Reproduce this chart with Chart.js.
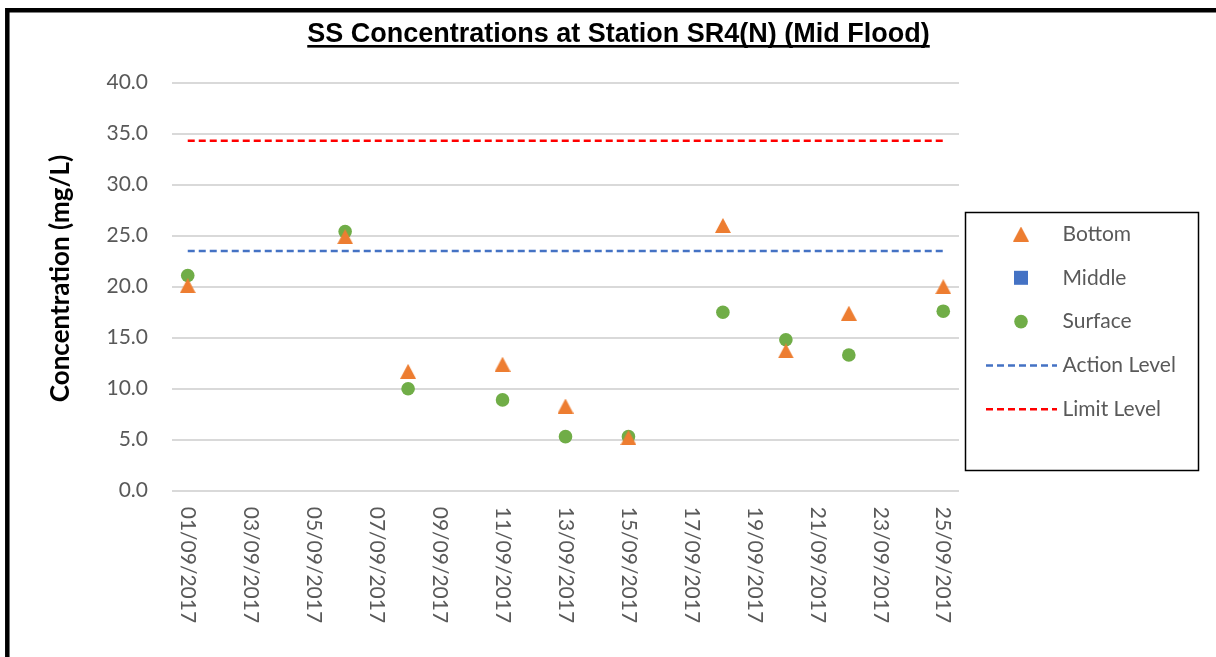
<!DOCTYPE html>
<html>
<head>
<meta charset="utf-8">
<script src="https://cdn.jsdelivr.net/npm/chart.js@4.4.0/dist/chart.umd.min.js"></script>
<style>
  html, body { margin: 0; padding: 0; background: #fff; }
  #wrap { width: 1216px; height: 657px; position: relative; }
</style>
</head>
<body>
<div id="wrap"><canvas id="ssChart"></canvas></div>
<script>
// sampling days in September 2017
const days = [1, 6, 8, 11, 13, 15, 18, 20, 22, 25];
const bottomValues = [20.1, 24.9, 11.7, 12.4, 8.3, 5.2, 26.0, 13.7, 17.4, 20.0];
const middleValues = [];
const surfaceValues = [21.1, 25.4, 10.0, 8.9, 5.3, 5.3, 17.5, 14.8, 13.3, 17.6];
const actionLevel = 23.5;
const limitLevel = 34.3;

const tickDays = [1, 3, 5, 7, 9, 11, 13, 15, 17, 19, 21, 23, 25];
const tickLabels = ['01/09/2017', '03/09/2017', '05/09/2017', '07/09/2017', '09/09/2017',
  '11/09/2017', '13/09/2017', '15/09/2017', '17/09/2017', '19/09/2017',
  '21/09/2017', '23/09/2017', '25/09/2017'];

const ORANGE = '#ED7D31', BLUE = '#4472C4', GREEN = '#70AD47', RED = '#FF0000';
const TEXT = '#595959';

// triangle marker as a small canvas, so the box centre sits on the value
function triangleMarker(w, h, color) {
    const c = document.createElement('canvas');
    c.width = w; c.height = h;
    const g = c.getContext('2d');
    g.fillStyle = color;
    g.beginPath();
    g.moveTo(w / 2, 0);
    g.lineTo(w, h);
    g.lineTo(0, h);
    g.closePath();
    g.fill();
    return c;
}
const triImg = triangleMarker(16, 15, ORANGE);

function pts(xs, ys) {
    return ys.map((v, i) => ({ x: xs[i], y: v }));
}
function level(v) {
    return [{ x: days[0], y: v }, { x: days[days.length - 1], y: v }];
}

function drawMarker(ctx, ds, x, y) {
    ctx.fillStyle = ds.backgroundColor;
    if (ds.pointStyle === 'rect') {
        ctx.fillRect(x - 7, y - 7, 14, 14);
    } else if (ds.pointStyle === 'circle') {
        ctx.beginPath();
        ctx.arc(x, y, ds.pointRadius, 0, Math.PI * 2);
        ctx.fill();
    } else if (ds.pointStyle instanceof HTMLCanvasElement) {
        const im = ds.pointStyle;
        ctx.drawImage(im, x - im.width / 2, y - im.height / 2);
    }
}

const decor = {
    id: 'decor',
    afterDraw(chart) {
        const ctx = chart.ctx;
        const area = chart.chartArea;
        const xs = chart.scales.x;
        ctx.save();

        // outer frame (only left and top edges fall inside the canvas)
        ctx.strokeStyle = '#000';
        ctx.lineWidth = 4.5;
        ctx.beginPath();
        ctx.moveTo(7.3, 700);
        ctx.lineTo(7.3, 10.3);
        ctx.lineTo(1230, 10.3);
        ctx.stroke();

        // title, underlined
        const title = 'SS Concentrations at Station SR4(N) (Mid Flood)';
        ctx.font = 'bold 27px "Liberation Sans", Arial, sans-serif';
        ctx.fillStyle = '#000';
        ctx.textAlign = 'center';
        ctx.textBaseline = 'alphabetic';
        ctx.fillText(title, 618.5, 41.5);
        const tw = ctx.measureText(title).width;
        ctx.fillRect(618.5 - tw / 2, 45, tw, 2.6);

        // y axis title
        ctx.save();
        ctx.translate(61, 278.5);
        ctx.rotate(-Math.PI / 2);
        ctx.font = 'bold 26px Lato, sans-serif';
        ctx.textBaseline = 'middle';
        ctx.fillText('Concentration (mg/L)', 0, 0);
        ctx.restore();

        // date labels, reading downwards
        ctx.fillStyle = TEXT;
        ctx.font = '21px Lato, sans-serif';
        ctx.textAlign = 'left';
        ctx.textBaseline = 'middle';
        tickDays.forEach((d, i) => {
            ctx.save();
            ctx.translate(xs.getPixelForValue(d), area.bottom + 16);
            ctx.rotate(Math.PI / 2);
            ctx.fillText(tickLabels[i], 0, 0);
            ctx.restore();
        });

        // legend box
        ctx.strokeStyle = '#000';
        ctx.lineWidth = 1.5;
        ctx.strokeRect(965.5, 212.5, 233, 258);
        chart.data.datasets.forEach((ds, i) => {
            const y = 234 + i * 43.8;
            if (ds.showLine) {
                ctx.strokeStyle = ds.borderColor;
                ctx.lineWidth = ds.borderWidth;
                ctx.setLineDash(ds.borderDash);
                ctx.beginPath();
                ctx.moveTo(986, y);
                ctx.lineTo(1057, y);
                ctx.stroke();
                ctx.setLineDash([]);
            } else {
                drawMarker(ctx, ds, 1021, y);
            }
            ctx.fillStyle = TEXT;
            ctx.textAlign = 'left';
            ctx.textBaseline = 'middle';
            ctx.fillText(ds.label, 1062.5, y);
        });
        ctx.restore();
    }
};

new Chart(document.getElementById('ssChart'), {
    type: 'scatter',
    data: {
        datasets: [
            { label: 'Bottom', data: pts(days, bottomValues), pointStyle: triImg,
              backgroundColor: ORANGE, borderColor: ORANGE, pointRadius: 8 },
            { label: 'Middle', data: pts(days, middleValues), pointStyle: 'rect',
              backgroundColor: BLUE, borderColor: BLUE, pointRadius: 7 },
            { label: 'Surface', data: pts(days, surfaceValues), pointStyle: 'circle',
              backgroundColor: GREEN, borderColor: GREEN, pointRadius: 6.8, borderWidth: 0 },
            { label: 'Action Level', data: level(actionLevel), showLine: true,
              borderColor: BLUE, backgroundColor: BLUE, borderWidth: 2.5, borderDash: [7, 4],
              pointRadius: 0 },
            { label: 'Limit Level', data: level(limitLevel), showLine: true,
              borderColor: RED, backgroundColor: RED, borderWidth: 2.5, borderDash: [7, 4],
              pointRadius: 0 }
        ]
    },
    options: {
        responsive: true,
        maintainAspectRatio: false,
        animation: false,
        layout: { padding: { top: 82.7, right: 257, bottom: 0, left: 0 } },
        plugins: {
            legend: { display: false },
            tooltip: { enabled: false }
        },
        scales: {
            x: {
                type: 'linear',
                min: 0.5,
                max: 25.5,
                afterBuildTicks: s => { s.ticks = tickDays.map(v => ({ value: v })); },
                afterFit: s => { s.height = 166.3; },
                ticks: { display: false },
                grid: { display: false },
                border: { display: false }
            },
            y: {
                min: 0,
                max: 40,
                afterFit: s => { s.width = 172; },
                ticks: {
                    stepSize: 5,
                    padding: 24,
                    color: TEXT,
                    font: { family: 'Lato', size: 21 },
                    callback: v => v.toFixed(1)
                },
                grid: { color: '#d9d9d9', lineWidth: 2, drawTicks: false },
                border: { display: false }
            }
        }
    },
    plugins: [decor]
});
</script>
</body>
</html>
